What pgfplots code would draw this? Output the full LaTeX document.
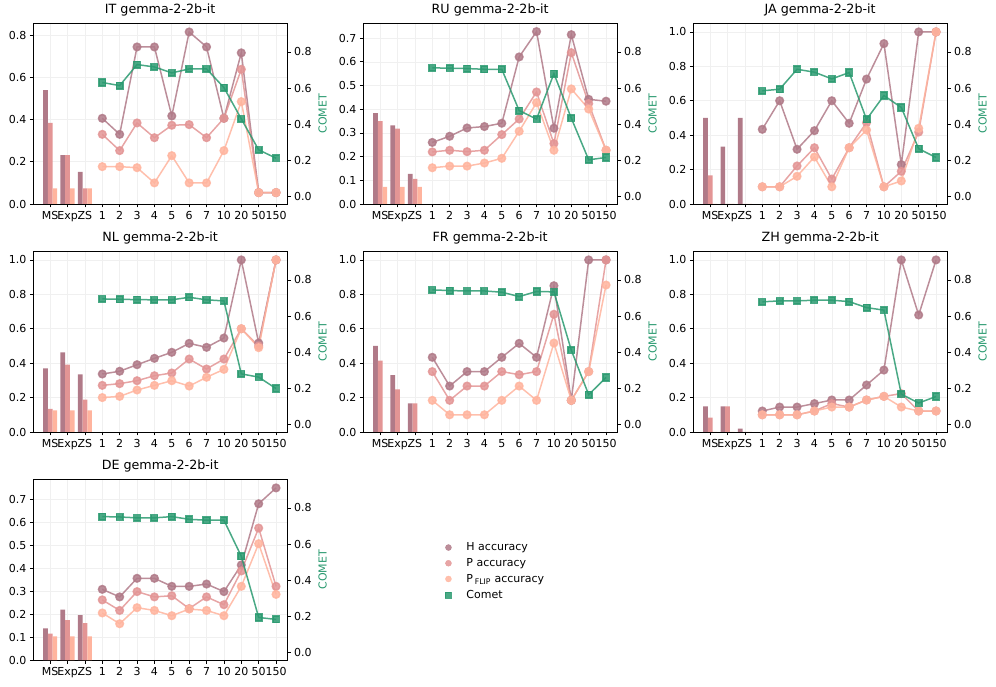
\documentclass[border=0pt]{standalone}
\usepackage{pgfplots}
\pgfplotsset{compat=1.18}
\usepackage{pgfplotstable}
\usepackage{fontspec}
\setmainfont{DejaVu Sans}

\definecolor{hcol}{HTML}{B07A88}
\definecolor{pcol}{HTML}{E39595}
\definecolor{fcol}{HTML}{FFB49E}
\definecolor{ccol}{HTML}{2A9A70}

% bars: x H P F  (0=MS, 1=Exp, 2=ZS)
% lines: x H P F C (3..13 = 1,2,3,4,5,6,7,10,20,50,150)
\pgfplotstableread{
x H P F
0 0.539 0.384 0.074
1 0.231 0.231 0.074
2 0.152 0.074 0.074
}\bIT
\pgfplotstableread{
x H P F C
3 0.406 0.330 0.177 0.631
4 0.330 0.253 0.177 0.614
5 0.744 0.384 0.172 0.730
6 0.744 0.314 0.100 0.717
7 0.417 0.373 0.229 0.684
8 0.815 0.376 0.100 0.706
9 0.744 0.314 0.100 0.706
10 0.406 0.406 0.253 0.603
11 0.716 0.638 0.485 0.430
12 0.054 0.054 0.054 0.259
13 0.054 0.054 0.054 0.213
}\lIT

\pgfplotstableread{
x H P F
0 0.384 0.350 0.072
1 0.332 0.318 0.072
2 0.127 0.106 0.072
}\bRU
\pgfplotstableread{
x H P F C
3 0.260 0.220 0.153 0.712
4 0.286 0.227 0.160 0.710
5 0.321 0.221 0.160 0.708
6 0.327 0.227 0.173 0.704
7 0.341 0.293 0.193 0.704
8 0.621 0.359 0.307 0.476
9 0.728 0.473 0.428 0.429
10 0.320 0.255 0.227 0.680
11 0.715 0.639 0.486 0.434
12 0.442 0.424 0.401 0.204
13 0.434 0.227 0.227 0.217
}\lRU

\pgfplotstableread{
x H P F
0 0.500 0.167 0
1 0.333 0 0
2 0.500 0 0
}\bJA
\pgfplotstableread{
x H P F C
3 0.434 0.100 0.100 0.585
4 0.600 0.100 0.100 0.594
5 0.318 0.221 0.161 0.704
6 0.426 0.327 0.273 0.688
7 0.600 0.145 0.100 0.651
8 0.469 0.327 0.327 0.686
9 0.726 0.473 0.430 0.427
10 0.932 0.100 0.100 0.559
11 0.229 0.190 0.134 0.493
12 1.000 0.418 0.440 0.265
13 1.000 1.000 1.000 0.217
}\lJA

\pgfplotstableread{
x H P F
0 0.370 0.134 0.126
1 0.463 0.391 0.126
2 0.335 0.188 0.126
}\bNL
\pgfplotstableread{
x H P F C
3 0.337 0.271 0.200 0.695
4 0.353 0.281 0.207 0.693
5 0.391 0.298 0.244 0.691
6 0.428 0.327 0.271 0.690
7 0.463 0.343 0.298 0.690
8 0.515 0.424 0.267 0.704
9 0.492 0.366 0.318 0.690
10 0.546 0.424 0.364 0.684
11 1.000 0.600 0.600 0.281
12 0.517 0.500 0.490 0.263
13 1.000 1.000 1.000 0.200
}\lNL

\pgfplotstableread{
x H P F
0 0.500 0.415 0
1 0.331 0.248 0
2 0.167 0.167 0
}\bFR
\pgfplotstableread{
x H P F C
3 0.434 0.351 0.184 0.745
4 0.267 0.184 0.100 0.741
5 0.351 0.267 0.100 0.739
6 0.351 0.267 0.100 0.739
7 0.434 0.351 0.184 0.732
8 0.515 0.333 0.267 0.708
9 0.434 0.351 0.184 0.736
10 0.850 0.684 0.517 0.734
11 0.184 0.184 0.184 0.412
12 1.000 0.351 0.351 0.166
13 1.000 1.000 0.854 0.261
}\lFR

\pgfplotstableread{
x H P F
0 0.149 0.083 0
1 0.149 0.149 0
2 0.019 0 0
}\bZH
\pgfplotstableread{
x H P F C
3 0.122 0.100 0.100 0.679
4 0.145 0.100 0.100 0.684
5 0.145 0.100 0.100 0.684
6 0.165 0.122 0.122 0.688
7 0.186 0.165 0.145 0.688
8 0.186 0.145 0.145 0.680
9 0.273 0.186 0.186 0.647
10 0.360 0.207 0.207 0.633
11 1.000 0.223 0.145 0.169
12 0.680 0.122 0.122 0.120
13 1.000 0.122 0.122 0.156
}\lZH

\pgfplotstableread{
x H P F
0 0.138 0.115 0.103
1 0.219 0.174 0.103
2 0.196 0.161 0.103
}\bDE
\pgfplotstableread{
x H P F C
3 0.308 0.262 0.205 0.752
4 0.275 0.216 0.158 0.750
5 0.356 0.298 0.228 0.745
6 0.356 0.275 0.216 0.745
7 0.321 0.280 0.193 0.752
8 0.321 0.224 0.222 0.737
9 0.331 0.275 0.216 0.732
10 0.298 0.241 0.193 0.732
11 0.414 0.388 0.321 0.533
12 0.681 0.575 0.507 0.195
13 0.750 0.321 0.286 0.184
}\lDE

\pgfplotsset{
  panel/.style={
    width=253.7pt, height=180.7pt, scale only axis,
    xmin=-0.97, xmax=13.63,
    tick align=outside, major tick length=3.5pt,
    every tick/.style={black, line width=0.8pt},
    axis line style={line width=0.8pt},
    tick label style={font=\fontsize{11}{13}\selectfont},
    /pgf/number format/.cd, fixed, fixed zerofill, precision=1, assume math mode=true,
  },
  bars/.style={ybar, bar width=0.27, draw=none},
  acc/.style={line width=1.5pt, mark=*, mark size=3.8pt, opacity=0.85},
  cometextra/.style={},
}

\newcommand\cometpre{}

% #1 x, #2 y, #3 title, #4 ymax, #5 yticks, #6 bar table, #7 line table
\newcommand\panel[7]{%
\begin{axis}[panel, at={(#1pt,#2pt)}, anchor=south west,
    title={#3 gemma-2-2b-it},
    title style={font=\fontsize{12.7}{15}\selectfont, yshift=-2pt},
    xtick={0,...,13},
    xticklabels={MS,Exp,ZS,1,2,3,4,5,6,7,10,20,50,150},
    tick pos=left,
    ymin=0, ymax=#4, ytick={#5},
    grid=major, major grid style={black!6, line width=0.6pt}]
  \addplot[bars, fill=hcol, bar shift=-0.27] table[x=x,y=H]{#6};
  \addplot[bars, fill=pcol, bar shift=0] table[x=x,y=P]{#6};
  \addplot[bars, fill=fcol, bar shift=0.27] table[x=x,y=F]{#6};
  \addplot[acc, color=hcol] table[x=x,y=H]{#7};
  \addplot[acc, color=pcol] table[x=x,y=P]{#7};
  \addplot[acc, color=fcol] table[x=x,y=F]{#7};
\end{axis}
\begin{axis}[panel, at={(#1pt,#2pt)}, anchor=south west,
    axis x line=none, axis y line*=right,
    ymin=-0.04, ymax=0.958, ytick={0,0.2,0.4,0.6,0.8},
    ylabel={COMET},
    ylabel style={color=ccol, font=\fontsize{11}{13}\selectfont},
    cometextra]
  \cometpre
  \addplot[forget plot, color=ccol, line width=1.5pt, mark=square*, mark size=3.3pt, opacity=0.85]
    table[x=x,y=C]{#7};
\end{axis}}

\begin{document}
\begin{tikzpicture}
\path[use as bounding box] (0,0) rectangle (996pt,686pt);

\panel{33.3}{482}{IT}{0.856}{0,0.2,0.4,0.6,0.8}{\bIT}{\lIT}
\panel{363.3}{482}{RU}{0.763}{0,0.1,0.2,0.3,0.4,0.5,0.6,0.7}{\bRU}{\lRU}
\panel{693.3}{482}{JA}{1.05}{0,0.2,0.4,0.6,0.8,1.0}{\bJA}{\lJA}
\panel{33.3}{254}{NL}{1.05}{0,0.2,0.4,0.6,0.8,1.0}{\bNL}{\lNL}
\panel{363.3}{254}{FR}{1.05}{0,0.2,0.4,0.6,0.8,1.0}{\bFR}{\lFR}
\panel{693.3}{254}{ZH}{1.05}{0,0.2,0.4,0.6,0.8,1.0}{\bZH}{\lZH}

\pgfplotsset{cometextra/.style={
  legend style={at={(1.612,0.672)}, anchor=north west, draw=none, fill=none,
    font=\fontsize{11}{13}\selectfont, row sep=2.2pt, cells={anchor=west},
    /tikz/every odd column/.append style={column sep=13pt}}}}
\renewcommand\cometpre{%
  \addlegendimage{only marks, mark=*, color=hcol, mark size=3pt, opacity=0.85}
  \addlegendentry{H accuracy}
  \addlegendimage{only marks, mark=*, color=pcol, mark size=3pt, opacity=0.85}
  \addlegendentry{P accuracy}
  \addlegendimage{only marks, mark=*, color=fcol, mark size=3pt, opacity=0.85}
  \addlegendentry{P\,\textsubscript{FLIP} accuracy}
  \addlegendimage{only marks, mark=square*, color=ccol, mark size=3pt, opacity=0.85}
  \addlegendentry{Comet}}
\panel{33.3}{26}{DE}{0.7875}{0,0.1,0.2,0.3,0.4,0.5,0.6,0.7}{\bDE}{\lDE}
\end{tikzpicture}
\end{document}
